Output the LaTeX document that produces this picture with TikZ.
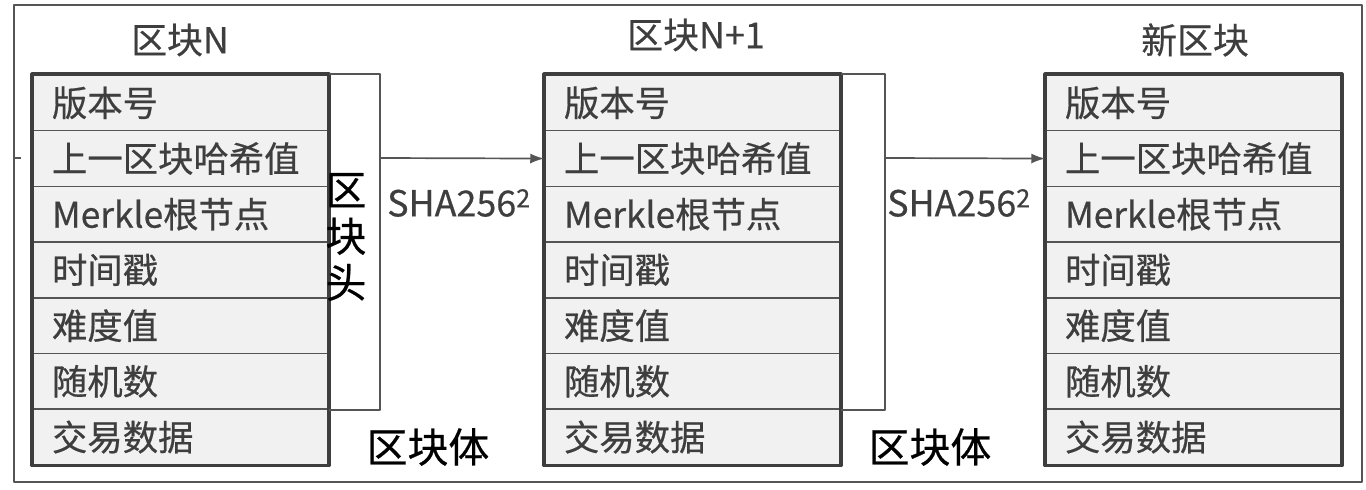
\documentclass[tikz,border=0pt]{standalone}
\usepackage{fontspec}
\setmainfont{Noto Sans CJK SC}[FakeBold=0.5]
\usetikzlibrary{positioning,arrows.meta}
\definecolor{rowfill}{HTML}{F1F1F1}
\definecolor{inkgray}{HTML}{3E3E3E}
\definecolor{linegray}{HTML}{555555}
\tikzset{
  row/.style={draw=linegray, line width=1.5bp, fill=rowfill, minimum width=295bp,
    minimum height=55.7bp, text width=257bp, align=left, inner sep=0pt,
    font=\fontsize{35.5}{38}\selectfont, text=inkgray},
  blockframe/.style={draw=inkgray, line width=3.6bp},
  bname/.style={font=\fontsize{36}{40}\selectfont, text=inkgray},
  brk/.style={draw=linegray, line width=1.7bp},
  link/.style={draw=linegray, line width=1.7bp, -{Latex[length=14bp,width=10bp]}},
  hashlbl/.style={font=\fontsize{36}{40}\selectfont, text=inkgray, anchor=west, inner sep=0pt},
  part/.style={font=\fontsize{41}{46.5}\selectfont, text=black, align=center, inner sep=0pt}
}
\begin{document}
\begin{tikzpicture}[x=1bp, y=-1bp, line join=round]
	\useasboundingbox (0,0) rectangle (1366,490);
	\draw[line width=1.6bp, linegray] (14,5) rectangle (1362,482);
	% three blocks
	\foreach \b/\xc in {1/180.5, 2/692.5, 3/1193.5}{
		\foreach \t [count=\i] in {版本号, 上一区块哈希值, Merkle根节点, 时间戳, 难度值, 随机数, 交易数据}
			\node[row] (b\b r\i) at (\xc, {75+55.7*\i-27.85}) {\t};
		\draw[blockframe] (b\b r1.north west) rectangle (b\b r7.south east);
	}
	\node[bname] (n1) at (180,40) {区块N};
	\node[bname] (n2) at (696,35) {区块N+1};
	\node[bname] (n3) at (1195,40) {新区块};
	% header brackets and hashes
	\coordinate (h1) at (380,158);
	\coordinate (h2) at (885,158);
	\coordinate (s0) at (14,158);
	\draw[brk] (b1r1.north east) -| (h1) |- (b1r6.south east);
	\draw[brk] (b2r1.north east) -| (h2) |- (b2r6.south east);
	\draw[brk] (s0) -- ++(7,0);
	\draw[link] (h1) -- (b2r2.west);
	\draw[link] (h2) -- (b3r2.west);
	\node[hashlbl] (sha1) at (387,203) {SHA256\textsuperscript{2}};
	\node[hashlbl] (sha2) at (887,203) {SHA256\textsuperscript{2}};
	\node[part] (hd) at (346,237) {区\\块\\头};
	\node[part] (bd1) at (428,447) {区块体};
	\node[part] (bd2) at (930,447) {区块体};
\end{tikzpicture}
\end{document}
